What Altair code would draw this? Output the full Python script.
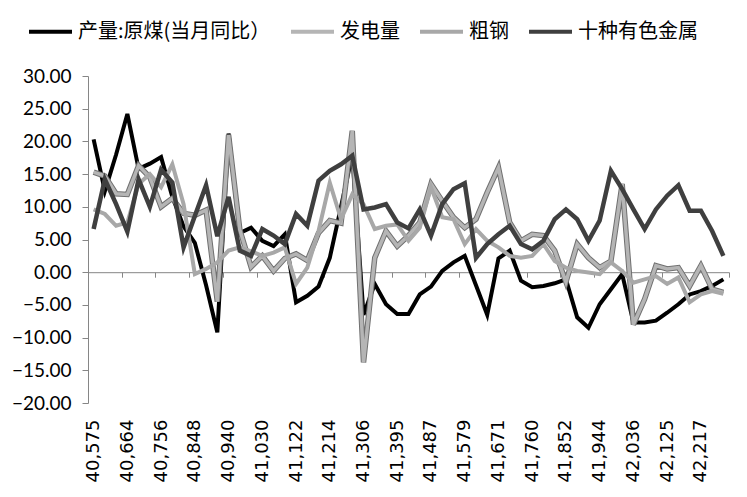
import json
import altair as alt
import pandas as pd

series_names = ["产量:原煤(当月同比）", "发电量", "粗钢", "十种有色金属"]
series_colors = ["#000000", "#b5b5b5", "#a8a8a8", "#3f3f3f"]

x_labels = ["40,575", "40,664", "40,756", "40,848", "40,940", "41,030", "41,122",
            "41,214", "41,306", "41,395", "41,487", "41,579", "41,671", "41,760",
            "41,852", "41,944", "42,036", "42,125", "42,217"]

coal = [20.3, 12.4, 18.0, 24.2, 15.8, 16.6, 17.6, 11.5, 7.0, 4.5, -2.0, -9.2, 21.2,
        6.0, 6.8, 4.8, 4.0, 5.8, -4.6, -3.6, -2.2, 2.2, 10.0, 18.0,
        -6.5, -1.8, -4.9, -6.4, -6.4, -3.4, -2.2, 0.2, 1.5, 2.5, -2.0, -6.5,
        2.1, 3.3, -1.3, -2.3, -2.1, -1.7, -1.1, -6.9, -8.5, -4.9, -2.6, -0.3,
        -7.7, -7.7, -7.4, -6.2, -4.9, -3.4, -2.9, -2.1, -1.1]

power = [15.3, 14.7, 12.0, 11.9, 16.3, 14.5, 10.0, 11.3, 9.0, 8.7, 9.5, -4.5, 21.0,
         6.5, 0.8, 2.5, 0.2, 2.1, 2.8, 1.8, 6.0, 7.9, 7.5, 21.6, -13.8,
         2.2, 6.3, 4.0, 5.6, 7.6, 13.5, 10.9, 8.4, 6.8, 8.1, 12.2, 16.0,
         7.6, 4.8, 5.8, 5.6, 3.3, -1.5, 4.3, 2.2, 0.7, 1.7, 13.5, -8.0,
         -4.1, 1.0, 0.5, 0.7, -2.1, 1.0, -2.6, -3.1]

steel = [9.6, 8.9, 7.1, 7.6, 13.5, 15.0, 13.0, 16.5, 10.4, -0.3, 0.5, 1.5, 3.3,
         3.8, 3.2, 2.5, 3.0, 3.8, -1.8, 0.7, 6.3, 13.7, 8.1, 11.9, 10.4,
         6.6, 7.1, 7.3, 4.8, 6.8, 13.0, 8.4, 8.1, 4.3, 6.6, 4.8, 3.8,
         2.5, 2.2, 2.5, 4.3, 1.7, 0.7, 0.2, -0.05, -0.3, 1.5, 0.2, -1.6,
         -1.1, -0.6, -1.8, -0.8, -4.6, -3.4, -2.9, -3.3]

metals = [6.6, 14.2, 10.4, 6.2, 14.2, 10.0, 15.7, 13.7, 3.8, 8.6, 13.3, 5.5, 11.5, 3.3, 2.5,
          6.6, 5.6, 4.3, 8.9, 7.1, 14.0, 15.5, 16.5, 17.8, 9.6, 9.9, 10.4, 7.6, 6.7,
          9.6, 5.6, 10.4, 12.7, 13.6, 2.2, 4.3, 5.8, 7.1, 4.3, 3.5, 4.8, 8.1, 9.6,
          8.1, 4.8, 7.9, 15.5, 12.7, 9.6, 6.6, 9.6, 11.7, 13.3, 9.4, 9.4, 6.3, 2.5]

rows = []
for name, vals in zip(series_names, [coal, power, steel, metals]):
    for i, v in enumerate(vals):
        rows.append({"idx": i, "value": v, "series": name})
df = pd.DataFrame(rows)

n = len(coal)
W, H = 641, 327
FONT = "Lato"
CJK = "Noto Sans CJK SC"

xscale = alt.Scale(domain=[-0.5, n - 0.5], nice=False, zero=False)
label_expr = json.dumps(x_labels) + "[round(datum.value / 3)]"

label_axis = alt.Axis(values=list(range(0, 3 * len(x_labels), 3)), labelExpr=label_expr,
                      labelAngle=270, ticks=False, domain=False, grid=False, title=None,
                      labelFont="DejaVu Sans", labelFontSize=18, labelColor="#000000",
                      labelPadding=16, orient="bottom", labelOverlap=False)
zero_axis = alt.Axis(values=[k * 3 - 0.5 for k in range(n // 3 + 1)], labels=False,
                     ticks=True, tickSize=5, tickColor="#868686", domain=True,
                     domainColor="#868686", grid=False, title=None, orient="bottom",
                     offset=-H * 20 / 50)

y_enc = alt.Y("value:Q", scale=alt.Scale(domain=[-20, 30], nice=False),
              axis=alt.Axis(values=list(range(-20, 31, 5)), format=".2f", grid=False,
                            title=None, tickSize=6, tickColor="#868686",
                            domainColor="#868686", labelFont=FONT, labelFontSize=19,
                            labelColor="#000000", labelPadding=11))

color_scale = alt.Scale(domain=series_names, range=series_colors)
legend = alt.Legend(orient="none", legendX=-61, legendY=-68, direction="horizontal",
                    columns=4, symbolType="stroke", symbolSize=1849, symbolStrokeWidth=4,
                    labelFont=CJK, labelFontSize=20, labelColor="#000000", labelLimit=0,
                    columnPadding=12, labelOffset=4, title=None, padding=0)
color_enc = alt.Color("series:N", scale=color_scale, legend=legend)

base = alt.Chart(df)

outline = base.transform_filter(alt.datum.series == series_names[1]).mark_line(
    strokeWidth=5.5, color="#707070").encode(
    x=alt.X("idx:Q", scale=xscale, axis=label_axis), y=y_enc)

coal_l = base.transform_filter(alt.datum.series == series_names[0]).mark_line(
    strokeWidth=4).encode(x=alt.X("idx:Q", scale=xscale, axis=zero_axis), y=y_enc,
                          color=color_enc)

power_l = base.transform_filter(alt.datum.series == series_names[1]).mark_line(
    strokeWidth=3.5).encode(x=alt.X("idx:Q", scale=xscale, axis=None), y=y_enc,
                            color=color_enc)

steel_l = base.transform_filter(alt.datum.series == series_names[2]).mark_line(
    strokeWidth=4).encode(x=alt.X("idx:Q", scale=xscale, axis=None), y=y_enc,
                          color=color_enc)

metals_l = base.transform_filter(alt.datum.series == series_names[3]).mark_line(
    strokeWidth=4.5).encode(x=alt.X("idx:Q", scale=xscale, axis=None), y=y_enc,
                            color=color_enc)

chart = alt.layer(coal_l, outline, power_l, steel_l, metals_l).resolve_axis(
    x="independent").properties(
    width=W, height=H,
    autosize=alt.AutoSizeParams(type="none"),
    padding={"left": 80, "top": 68, "right": 10, "bottom": 86},
    background="#ffffff",
).configure_view(stroke=None)

chart.save("out.html", embed_options={"renderer": "svg", "actions": False})
